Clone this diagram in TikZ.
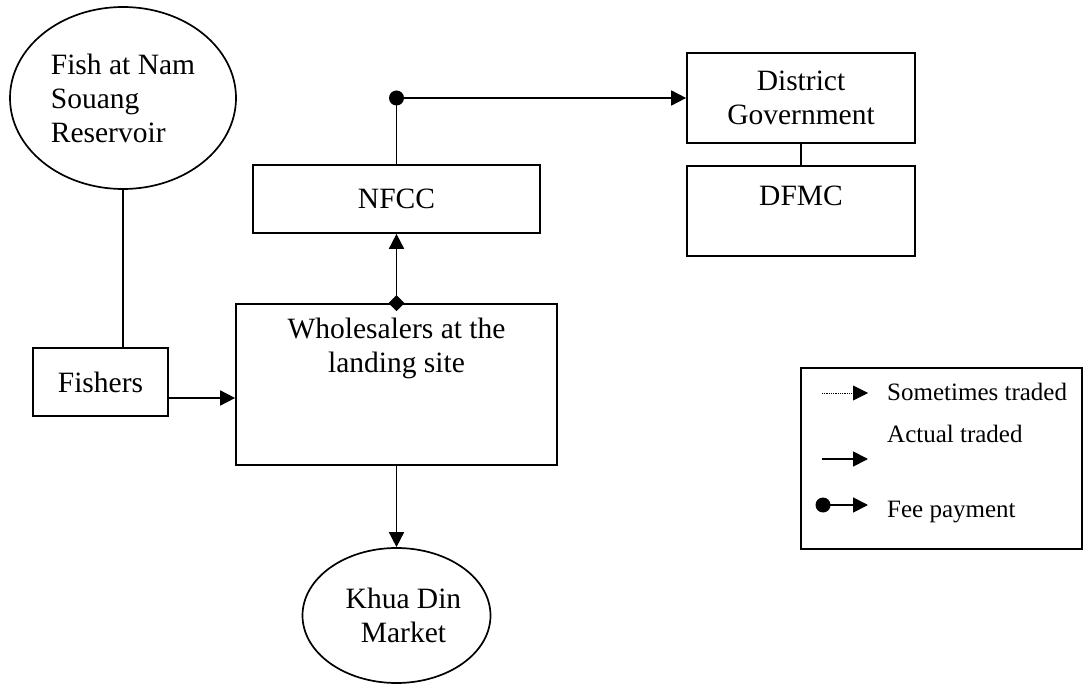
\documentclass[tikz,border=0pt]{standalone}
\usepackage{fontspec}
\setmainfont{Liberation Serif}
\usetikzlibrary{arrows.meta,shapes.geometric,calc}
\begin{document}
\begin{tikzpicture}[x=1pt,y=-1pt,
  every node/.style={font=\fontsize{29.5}{34}\selectfont},
  box/.style={draw,line width=1.7pt,rectangle,inner sep=0pt},
  oval/.style={draw,line width=1.7pt,ellipse,inner sep=0pt,align=left},
  ln/.style={line width=1.7pt},
  arr/.style={line width=1.7pt,-{Triangle[length=15pt,width=15pt]}},
  blob/.style={circle,fill=black,inner sep=0pt,minimum size=15pt},
  leg/.style={font=\fontsize{25}{30}\selectfont,anchor=base west,inner sep=0pt}]
\useasboundingbox (0,0) rectangle (1084,684);
% nodes
\node[oval,minimum width=226pt,minimum height=182pt] (E1) at (123,98) {Fish at Nam\\Souang\\Reservoir};
\node[box,minimum width=135pt,minimum height=68pt] (F) at (100.5,382) {Fishers};
\node[box,minimum width=321pt,minimum height=161pt] (W) at (396.5,384.5) {};
\node[align=center,anchor=north,inner sep=0pt] (Wt) at (396.5,318) {Wholesalers at the\\landing site};
\node[box,minimum width=287pt,minimum height=68pt] (N) at (396.5,199) {NFCC};
\node[box,minimum width=228pt,minimum height=90pt,align=center] (D) at (801,98) {District\\Government};
\node[box,minimum width=228pt,minimum height=90pt] (M) at (801,211) {};
\node[anchor=base,inner sep=0pt] (Mt) at (801,206) {DFMC};
\node[oval,align=center,minimum width=188pt,minimum height=135pt] (K) at (396.5,615.5) {\hspace*{14pt}Khua Din\\\hspace*{14pt}Market};
% connectors
\draw[ln] (E1.south) -- (E1.south |- F.north);
\draw[arr] ([yshift=-16pt]F.east) -- ([yshift=-16pt]F.east -| W.west);
\node[diamond,fill=black,inner sep=0pt,minimum width=16pt,minimum height=16pt] (dm) at (W.north) {};
\draw[arr] (dm.center) -- (N.south);
\node[blob] (dot) at (N.north |- D.west) {};
\draw[ln] (N.north) -- (dot.center);
\draw[arr] (dot.center) -- (D.west);
\draw[ln] (D.south) -- (M.north);
\draw[arr] (W.south) -- (K.north);
% legend
\node[draw,line width=1.7pt,rectangle,minimum width=281pt,minimum height=181pt,inner sep=0pt] (L) at (941.5,458.5) {};
\coordinate (l1a) at (822,393);
\coordinate (l1b) at (868,393);
\draw[line width=0.8pt,densely dotted,-{Triangle[length=15pt,width=15pt]}] (l1a) -- (l1b);
\node[leg] (t1) at (887,400) {Sometimes traded};
\coordinate (l2a) at (822,459);
\coordinate (l2b) at (868,459);
\draw[arr] (l2a) -- (l2b);
\node[leg] (t2) at (887,442) {Actual traded};
\node[blob] (l3a) at (823,505) {};
\coordinate (l3b) at (868,505);
\draw[arr] (l3a.center) -- (l3b);
\node[leg] (t3) at (887,517) {Fee payment};
\end{tikzpicture}
\end{document}
